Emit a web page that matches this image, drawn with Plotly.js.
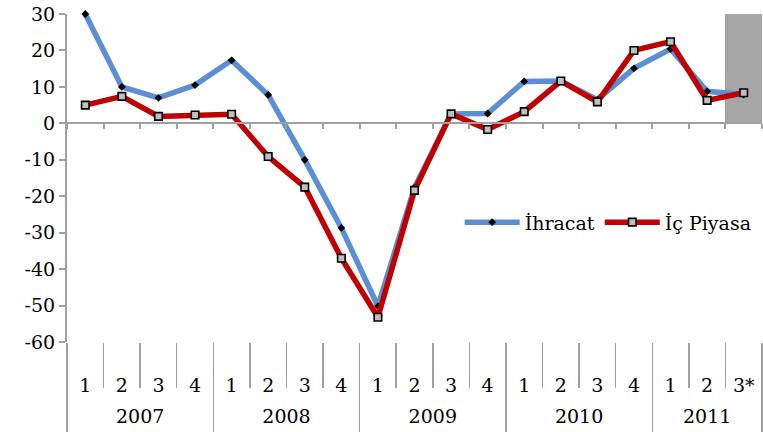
<!DOCTYPE html>
<html>
<head>
<meta charset="utf-8">
<script src="https://cdn.plot.ly/plotly-3.0.1.min.js"></script>
<style>html,body{margin:0;padding:0;background:#fff;}#chart{width:763px;height:432px;}</style>
</head>
<body>
<div id="chart"></div>
<script>
// ---- data ----
const pointYears = ['2007','2007','2007','2007','2008','2008','2008','2008','2009','2009','2009','2009','2010','2010','2010','2010','2011','2011','2011'];
const quarterLabels = ['1','2','3','4','1','2','3','4','1','2','3','4','1','2','3','4','1','2','3*'];
const ihracat = [30, 10, 7, 10.5, 17.3, 7.8, -10, -28.7, -50.2, -17.6, 2.6, 2.7, 11.5, 11.6, 6.5, 15.1, 20.4, 8.8, 7.9];
const icPiyasa = [5, 7.4, 1.9, 2.3, 2.5, -9.1, -17.5, -37, -53.2, -18.4, 2.6, -1.7, 3.2, 11.6, 5.9, 20, 22.4, 6.3, 8.4];
const shadeValues = [null,null,null,null,null,null,null,null,null,null,null,null,null,null,null,null,null,null,30];
const seriesNames = ['İhracat', 'İç Piyasa'];
const yTickValues = [-60, -50, -40, -30, -20, -10, 0, 10, 20, 30];
const yTickLabels = ['-60', '-50', '-40', '-30', '-20', '-10', '0', '10', '20', '30'];

// ---- derived positions (category indices) ----
const idx = quarterLabels.map((q, i) => i);
const yRange = [yTickValues[0], yTickValues[yTickValues.length - 1]];
const xRange = [-0.5, quarterLabels.length - 0.5];
const allBounds = [];
for (let i = 0; i <= quarterLabels.length; i++) allBounds.push(i - 0.5);
const years = [...new Set(pointYears)];
const yearCenters = years.map(y => {
  const ii = idx.filter(i => pointYears[i] === y);
  return (ii[0] + ii[ii.length - 1]) / 2;
});
const yearBounds = [-0.5];
years.forEach(y => {
  const ii = idx.filter(i => pointYears[i] === y);
  yearBounds.push(ii[ii.length - 1] + 0.5);
});

const font = {family: 'DejaVu Serif, serif', size: 19, color: '#000'};
const grey = '#a0a0a0';

const traces = [
  {type: 'bar', x: idx, y: shadeValues, marker: {color: '#a6a6a6'}, showlegend: false, hoverinfo: 'skip'},
  {type: 'scatter', mode: 'lines+markers', name: seriesNames[0], x: idx, y: ihracat,
   line: {color: '#5a8fd6', width: 5.5}, cliponaxis: false,
   marker: {symbol: 'diamond', size: 6, color: '#000'}},
  {type: 'scatter', mode: 'lines+markers', name: seriesNames[1], x: idx, y: icPiyasa,
   line: {color: '#c00000', width: 5.5}, cliponaxis: false,
   marker: {symbol: 'square', size: 7.5, color: '#bfbfbf', line: {color: '#000', width: 1.6}}}
];
// invisible helpers so overlay axes are drawn
['x2', 'x3', 'x4', 'x5'].forEach(ax => traces.push({type: 'scatter', mode: 'none', x: idx, y: ihracat, xaxis: ax, showlegend: false, hoverinfo: 'skip'}));

const zeroPos = (0 - yRange[0]) / (yRange[1] - yRange[0]);
const clear = 'rgba(0,0,0,0)';
const baseX = {range: xRange, showgrid: false, zeroline: false, automargin: false, fixedrange: true};

const layout = {
  width: 763, height: 432,
  margin: {l: 67, r: 1, t: 14, b: 90},
  paper_bgcolor: '#fff', plot_bgcolor: '#fff',
  font: font,
  bargap: 0,
  showlegend: true,
  legend: {orientation: 'h', x: 0.565, y: 0.365, yanchor: 'middle', xanchor: 'left', font: font, bgcolor: clear,
           itemwidth: 55},
  // quarter labels
  xaxis: Object.assign({}, baseX, {
    tickmode: 'array', tickvals: idx, ticktext: quarterLabels,
    ticks: 'outside', ticklen: 26, tickcolor: clear, showline: false, tickfont: font
  }),
  // zero line with boundary ticks
  xaxis2: Object.assign({}, baseX, {
    overlaying: 'x', anchor: 'free', position: zeroPos,
    tickmode: 'array', tickvals: allBounds,
    ticks: 'outside', ticklen: 5, tickcolor: grey, tickwidth: 2,
    showline: true, linecolor: grey, linewidth: 2, showticklabels: false
  }),
  // short separators between quarters
  xaxis3: Object.assign({}, baseX, {
    overlaying: 'x', anchor: 'y',
    tickmode: 'array', tickvals: allBounds,
    ticks: 'outside', ticklen: 45, tickcolor: grey, tickwidth: 1.5,
    showline: false, showticklabels: false
  }),
  // long separators between years
  xaxis4: Object.assign({}, baseX, {
    overlaying: 'x', anchor: 'y',
    tickmode: 'array', tickvals: yearBounds,
    ticks: 'outside', ticklen: 90, tickcolor: grey, tickwidth: 1.5,
    showline: false, showticklabels: false
  }),
  // year labels
  xaxis5: Object.assign({}, baseX, {
    overlaying: 'x', anchor: 'y',
    tickmode: 'array', tickvals: yearCenters, ticktext: years,
    ticks: 'outside', ticklen: 57, tickcolor: clear, showline: false, tickfont: font
  }),
  yaxis: {
    range: yRange, tickmode: 'array', tickvals: yTickValues, ticktext: yTickLabels,
    showline: true, linecolor: grey, linewidth: 2,
    ticks: 'outside', ticklen: 6, tickcolor: grey, tickwidth: 2,
    showgrid: false, zeroline: false, tickfont: font, automargin: false, fixedrange: true
  }
};

Plotly.newPlot('chart', traces, layout, {staticPlot: true});
</script>
</body>
</html>
